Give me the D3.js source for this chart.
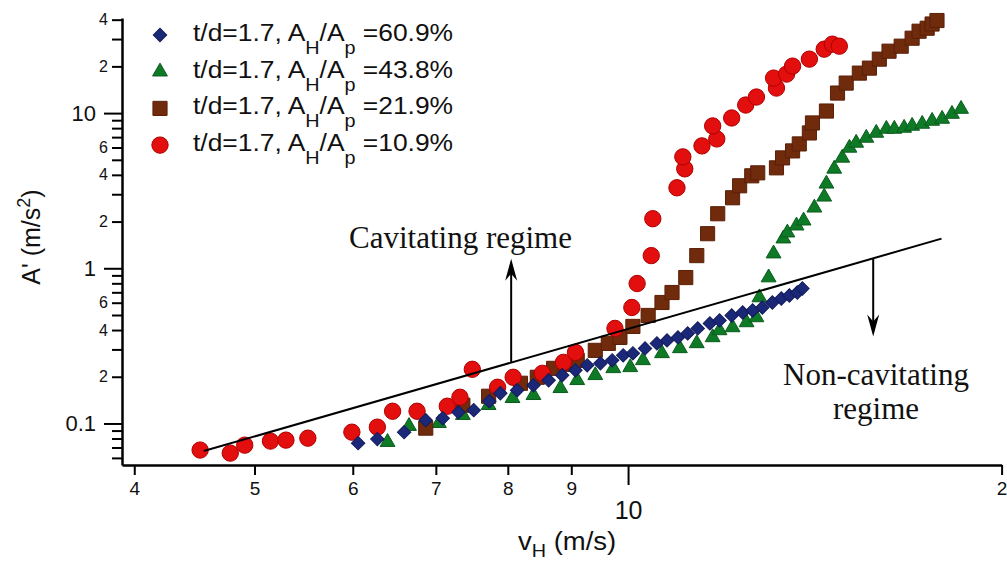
<!DOCTYPE html>
<html>
<head>
	<script src="https://cdn.jsdelivr.net/npm/d3@7"></script>
	<style>
		html, body {
			padding: 0;
			margin: 0;
			background: #fff;
		}
		text { font-family: "Liberation Sans", Arial, sans-serif; fill: #111; }
		.serif { font-family: "Liberation Serif", "Times New Roman", serif; }
		.axis path, .axis line { stroke: #000; }
	</style>
</head>
<body>
	<script>
		var width = 1007, height = 561;

		/* data: v_H (m/s) and A' (m/s^2), one pair of arrays per series */
		var v609 = [6.06, 6.28, 6.60, 6.87, 7.09, 7.30, 7.51, 7.73, 7.89, 8.14, 8.39, 8.63, 8.85, 9.07, 9.27, 9.50, 9.71, 9.91,
		            10.09, 10.32, 10.55, 10.75, 10.97, 11.17, 11.38, 11.64, 11.85, 12.12, 12.37, 12.60, 12.83, 13.07, 13.29, 13.49, 13.69, 13.82];
		var a609 = [0.0747, 0.0793, 0.0879, 0.1050, 0.1081, 0.1182, 0.1218, 0.1391, 0.1566, 0.1637, 0.1762, 0.1898, 0.2044, 0.2201, 0.2369, 0.2441, 0.2551, 0.2748,
		            0.2830, 0.3047, 0.3281, 0.3430, 0.3586, 0.3804, 0.4098, 0.4412, 0.4612, 0.4966, 0.5191, 0.5347, 0.5590, 0.6020, 0.6387, 0.6677, 0.6981, 0.7407];

		var v438 = [6.40, 6.66, 7.04, 7.36, 7.72, 8.07, 8.39, 8.82, 9.10, 9.41, 9.73, 10.04, 10.28, 10.65, 11.01, 11.36, 11.70, 11.85, 12.14, 12.46, 12.69, 12.76, 12.98,
		            13.10, 13.34, 13.44, 13.67, 13.85, 14.13, 14.39, 14.45, 14.66, 14.88, 15.08, 15.27, 15.56, 15.85, 16.15, 16.39, 16.69, 16.94, 17.26, 17.58, 17.91, 18.24, 18.55];
		var a438 = [0.0758, 0.0961, 0.1004, 0.1131, 0.1311, 0.1454, 0.1520, 0.1686, 0.1898, 0.2044, 0.2266, 0.2300, 0.2551, 0.2830, 0.3047, 0.3281, 0.3586, 0.3977, 0.4158, 0.4478, 0.4822, 0.6482, 0.8714,
		            1.243, 1.552, 1.696, 1.881, 2.026, 2.455, 2.889, 3.503, 4.372, 5.145, 5.966, 6.424, 6.918, 7.449, 7.904, 7.904, 8.022, 8.264, 8.510, 8.897, 9.165, 9.868, 10.62];

		var v219 = [6.87, 7.36, 7.72, 8.19, 8.45, 8.71, 8.90, 9.10, 9.41, 9.64, 9.85, 10.09, 10.38, 10.65, 10.85, 11.13, 11.36, 11.59, 11.81, 12.14, 12.30,
		            12.58, 12.72, 13.17, 13.32, 13.57, 13.74, 14.00, 14.08, 14.45, 14.75, 14.99, 15.36, 15.65, 15.94, 16.23, 16.60, 16.94, 17.16, 17.42, 17.58, 17.74];
		var a219 = [0.0933, 0.1311, 0.1498, 0.1816, 0.1984, 0.2266, 0.2405, 0.2551, 0.2959, 0.3281, 0.3586, 0.4220, 0.4966, 0.6020, 0.6981, 0.8714, 1.207, 1.671, 2.246, 2.847, 3.401,
		            3.943, 4.121, 4.438, 5.145, 5.706, 6.330, 7.449, 8.639, 10.31, 13.46, 15.61, 18.10, 19.49, 22.27, 25.06, 26.99, 30.38, 33.70, 35.23, 37.5, 39.5];

		var v109 = [4.52, 4.78, 4.91, 5.15, 5.30, 5.52, 5.99, 6.28, 6.46, 6.76, 7.15, 7.32, 7.49, 7.85, 8.08, 8.53, 8.87, 9.07, 9.76, 10.07,
		            10.17, 10.44, 10.47, 10.95, 11.11, 11.07, 11.47, 11.79, 11.70, 12.12, 12.44, 12.69, 13.17, 13.10, 13.42, 13.57, 14.00, 14.39, 14.61, 14.80];
		var a109 = [0.0674, 0.0644, 0.0725, 0.0770, 0.0781, 0.0804, 0.0879, 0.0947, 0.1199, 0.1199, 0.1292, 0.1476, 0.2234, 0.1712, 0.1984, 0.2105, 0.2477, 0.2873, 0.4098, 0.5590,
		            0.7975, 1.207, 2.086, 3.301, 4.372, 5.223, 6.146, 6.815, 8.264, 9.301, 11.27, 12.69, 14.50, 16.81, 17.84, 20.08, 22.27, 25.82, 27.81, 26.99];

		var ratios = ["60.9%", "43.8%", "21.9%", "10.9%"];

		/* boundary line between the regimes and the two arrows */
		var boundV = [4.55, 17.89];
		var boundA = [0.0664, 1.552];
		var arrowUpV = 8.05,  arrowUpA = [0.2477, 1.154];
		var arrowDnV = 15.76, arrowDnA = [1.154, 0.364];

		/* ticks */
		var xMinorTicks  = [4, 5, 6, 7, 8, 9, 20];
		var xMinorLabels = ["4", "5", "6", "7", "8", "9", "2"];
		var xMajorTicks  = [10];
		var yMajorTicks  = [0.1, 1, 10];
		var yMajorLabels = ["0.1", "1", "10"];
		var yMinorTicks  = [0.06, 0.07, 0.08, 0.09, 0.2, 0.3, 0.4, 0.5, 0.6, 0.7, 0.8, 0.9, 2, 3, 4, 5, 6, 7, 8, 9, 20, 30, 40];
		var yMinorLabels = ["", "", "", "", "2", "", "4", "", "6", "", "", "", "2", "", "4", "", "6", "", "", "", "2", "", "4"];

		var svg = d3.select('body').append('svg')
			.attr('width', width)
			.attr('height', height)
			.style('background-color', '#fff');

		var x = d3.scaleLog().domain([3.91, 20]).range([122, 1001.6]);
		var y = d3.scaleLog().domain([0.054, 41]).range([465, 18]);

		/* axes */
		var gy = svg.append('g').attr('class', 'axis').attr('transform', 'translate(122,0)');
		gy.call(d3.axisLeft(y).tickValues(yMinorTicks).tickSize(10).tickPadding(4).tickSizeOuter(0)
			.tickFormat(function(d, i) { return yMinorLabels[i]; }));
		gy.select('.domain').attr('stroke-width', 2.5);
		gy.selectAll('.tick line').attr('stroke-width', 2);
		gy.selectAll('.tick text').attr('font-size', 16);
		var gy2 = svg.append('g').attr('class', 'axis').attr('transform', 'translate(122,0)');
		gy2.call(d3.axisLeft(y).tickValues(yMajorTicks).tickSize(18).tickPadding(8)
			.tickFormat(function(d, i) { return yMajorLabels[i]; }));
		gy2.select('.domain').remove();
		gy2.selectAll('.tick line').attr('stroke-width', 2);
		gy2.selectAll('.tick text').attr('font-size', 22);

		var gx = svg.append('g').attr('class', 'axis').attr('transform', 'translate(0,465)');
		gx.call(d3.axisBottom(x).tickValues(xMinorTicks).tickSize(10).tickPadding(7).tickSizeOuter(0)
			.tickFormat(function(d, i) { return xMinorLabels[i]; }));
		gx.select('.domain').attr('stroke-width', 2.5);
		gx.selectAll('.tick line').attr('stroke-width', 2);
		gx.selectAll('.tick text').attr('font-size', 19);
		var gx2 = svg.append('g').attr('class', 'axis').attr('transform', 'translate(0,465)');
		gx2.call(d3.axisBottom(x).tickValues(xMajorTicks).tickSize(20).tickPadding(16)
			.tickFormat(function(d) { return d3.format('d')(d); }));
		gx2.select('.domain').remove();
		gx2.selectAll('.tick line').attr('stroke-width', 2);
		gx2.selectAll('.tick text').attr('font-size', 25);

		/* axis titles */
		var xt = svg.append('text').attr('transform', 'translate(518,550) scale(1.1,1)').attr('font-size', 25);
		xt.append('tspan').text('v');
		xt.append('tspan').attr('font-size', 18).attr('dy', 7).text('H');
		xt.append('tspan').attr('dy', -7).text(' (m/s)');

		var yt = svg.append('text').attr('transform', 'translate(40,237) rotate(-90)')
			.attr('text-anchor', 'middle').attr('font-size', 25);
		yt.append('tspan').text("A' (m/s");
		yt.append('tspan').attr('font-size', 18).attr('dy', -10).text('2');
		yt.append('tspan').attr('dy', 10).text(')');

		/* marker styles per series */
		var series = [
			{ v: v438, a: a438, type: d3.symbolTriangle, size: 95, fill: '#0f7a26', stroke: '#0a5c1c', rot: 0 },
			{ v: v219, a: a219, type: d3.symbolSquare,   size: 200, fill: '#702a0c', stroke: '#5a2008', rot: 0 },
			{ v: v109, a: a109, type: d3.symbolCircle,   size: 210, fill: '#e30e0e', stroke: '#b00000', rot: 0 },
			{ v: v609, a: a609, type: d3.symbolSquare,   size: 90,  fill: '#1b2878', stroke: '#121c5c', rot: 45 }
		];

		series.forEach(function(s) {
			var pts = s.v.map(function(v, i) { return [v, s.a[i]]; });
			svg.append('g').selectAll('path').data(pts).enter().append('path')
				.attr('d', d3.symbol().type(s.type).size(s.size))
				.attr('transform', function(d) { return 'translate(' + x(d[0]) + ',' + y(d[1]) + ') rotate(' + s.rot + ')'; })
				.attr('fill', s.fill)
				.attr('stroke', s.stroke)
				.attr('stroke-width', 1);
		});

		/* regime boundary */
		svg.append('line')
			.attr('x1', x(boundV[0])).attr('y1', y(boundA[0]))
			.attr('x2', x(boundV[1])).attr('y2', y(boundA[1]))
			.attr('stroke', '#000').attr('stroke-width', 2);

		var drawArrow = function(v, a0, a1) {
			var px = x(v), y0 = y(a0), y1 = y(a1);
			var dir = y1 < y0 ? 1 : -1; // 1 = pointing up
			svg.append('line').attr('x1', px).attr('x2', px).attr('y1', y0).attr('y2', y1 + dir * 10)
				.attr('stroke', '#000').attr('stroke-width', 2);
			svg.append('path')
				.attr('d', 'M' + px + ',' + y1 + 'L' + (px - 6) + ',' + (y1 + dir * 22) + 'L' + px + ',' + (y1 + dir * 15) +
					'L' + (px + 6) + ',' + (y1 + dir * 22) + 'Z')
				.attr('fill', '#000');
		};
		drawArrow(arrowUpV, arrowUpA[0], arrowUpA[1]);
		drawArrow(arrowDnV, arrowDnA[0], arrowDnA[1]);

		svg.append('text').attr('class', 'serif').attr('x', 349).attr('y', 248).attr('font-size', 31).text('Cavitating regime');
		svg.append('text').attr('class', 'serif').attr('x', 876).attr('y', 385).attr('font-size', 31)
			.attr('text-anchor', 'middle').text('Non-cavitating');
		svg.append('text').attr('class', 'serif').attr('x', 876).attr('y', 419).attr('font-size', 31)
			.attr('text-anchor', 'middle').text('regime');

		/* legend */
		var legendOrder = [3, 0, 1, 2];
		legendOrder.forEach(function(si, row) {
			var s = series[si];
			var cy = 35 + row * 36.7;
			svg.append('path')
				.attr('d', d3.symbol().type(s.type).size(s.size))
				.attr('transform', 'translate(160,' + cy + ') rotate(' + s.rot + ')')
				.attr('fill', s.fill).attr('stroke', s.stroke);
			var t = svg.append('text').attr('transform', 'translate(193,' + (cy + 6) + ') scale(1.1,1)').attr('font-size', 24);
			t.append('tspan').text('t/d=1.7, A');
			t.append('tspan').attr('font-size', 18).attr('dy', 13).text('H');
			t.append('tspan').attr('dy', -13).text('/A');
			t.append('tspan').attr('font-size', 18).attr('dy', 13).text('p');
			t.append('tspan').attr('dy', -13).text(' =' + ratios[row]);
		});
	</script>
</body>
</html>
